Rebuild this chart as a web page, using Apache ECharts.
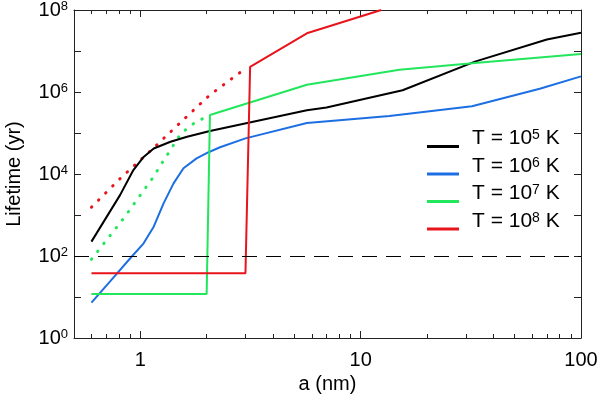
<!DOCTYPE html>
<html>
<head>
<meta charset="utf-8">
<script src="https://cdn.jsdelivr.net/npm/echarts@6/dist/echarts.min.js"></script>
<style>
  html, body { margin: 0; padding: 0; background: #fff; }
  #chart { width: 600px; height: 395px; }
</style>
</head>
<body>
<div id="chart"></div>
<script>
// grain size a (nm) and lifetime (yr)
const aBlack = [0.6, 0.81, 0.93, 1.035, 1.15, 1.37, 1.63, 2.07, 5.7, 7.0, 15.5, 33, 70, 100]
const tBlack = [224, 3100, 1.25e4, 2.6e4, 4.2e4, 6.1e4, 8.1e4, 1.12e5, 3.6e5, 4.2e5, 1.1e6, 5.5e6, 1.9e7, 2.8e7]

const aBlue = [0.6, 0.76, 0.9, 1.035, 1.15, 1.275, 1.415, 1.57, 1.8, 2.04, 2.3, 3.0, 5.7, 13.5, 32, 65, 100]
const tBlue = [7.3, 31, 88, 204, 520, 1920, 5900, 1.38e4, 2.4e4, 3.4e4, 4.5e4, 7.4e4, 1.75e5, 2.6e5, 4.5e5, 1.2e6, 2.4e6]

const aGreen = [0.6, 2.0, 2.07, 5.7, 15, 34, 100]
const tGreen = [11.8, 11.8, 2.75e5, 1.5e6, 3.5e6, 5.2e6, 8.5e6]
const aGreenDot = [0.6, 0.84, 1.14, 1.28, 1.53, 1.77, 2.07]
const tGreenDot = [83, 830, 8100, 2.2e4, 9.8e4, 1.8e5, 2.75e5]

const aRed = [0.6, 3.0, 3.15, 5.7, 12.4]
const tRed = [38, 38, 4.1e6, 2.7e7, 1e8]
const aRedDot = [0.6, 0.82, 1.12, 1.52, 2.07, 2.95]
const tRedDot = [1550, 8300, 3.8e4, 1.8e5, 8.5e5, 3.5e6]

const tempExp = [5, 6, 7, 8]
const colors = ['#000000', '#1c6fe3', '#22e65c', '#e8141c']

const xMajor = [1, 10, 100]
const xMinor = [0.6, 0.7, 0.8, 0.9, 2, 3, 4, 5, 6, 7, 8, 9, 20, 30, 40, 50, 60, 70, 80, 90]
const yTicks = [1, 10, 100, 1e3, 1e4, 1e5, 1e6, 1e7, 1e8]
const yLabels = [1, 100, 1e4, 1e6, 1e8]
const limitLine = 100

const pairs = (xs, ys) => xs.map((x, i) => [x, ys[i]])
const names = tempExp.map(e => 'T' + e)

const fontFam = 'Liberation Sans, Arial, sans-serif'
const supRich = {
  b: {fontSize: 20, lineHeight: 20, fontFamily: fontFam, color: '#000'},
  s: {fontSize: 13, lineHeight: 13, verticalAlign: 'top', fontFamily: fontFam, color: '#000'}
}
const axisCol = '#222'

const mChart = echarts.init(document.getElementById('chart'))

const xBase = {
  type: 'log', logBase: 10, min: 0.5, max: 100,
  splitLine: {show: false},
  axisLine: {show: true, onZero: false, lineStyle: {color: axisCol, width: 1}}
}
const yBase = {
  type: 'log', logBase: 10, min: 1, max: 1e8,
  splitLine: {show: false},
  axisLine: {show: true, onZero: false, lineStyle: {color: axisCol, width: 1}}
}

const solid = (i, xs, ys, extra) => Object.assign({
  name: names[i],
  type: 'line',
  data: pairs(xs, ys),
  showSymbol: false,
  symbol: 'none',
  smooth: false,
  animation: false,
  lineStyle: {color: colors[i], width: 2},
  itemStyle: {color: colors[i]}
}, extra || {})

const dotted = (i, xs, ys) => ({
  name: names[i] + ' dot',
  type: 'line',
  data: pairs(xs, ys),
  showSymbol: false,
  symbol: 'none',
  animation: false,
  lineStyle: {color: colors[i], width: 3, type: [0.5, 9.5], cap: 'round'}
})

const options = {
  animation: false,
  grid: {left: 74, right: 19, top: 10, bottom: 57, outerBoundsMode: 'none', containLabel: false},
  // 图例
  legend: {
    data: names,
    orient: 'vertical',
    left: 427,
    top: 128,
    padding: 0,
    icon: 'rect',
    itemWidth: 32,
    itemHeight: 3,
    itemGap: -9,
    selectedMode: false,
    formatter: n => 'T = 10{s|' + n.slice(1) + '} K',
    textStyle: {
      fontSize: 21, lineHeight: 20, fontFamily: fontFam, color: '#000',
      padding: [0, 0, 16, 8],
      rich: {s: {fontSize: 14, lineHeight: 14, verticalAlign: 'top', fontFamily: fontFam, color: '#000'}}
    }
  },
  xAxis: [
    Object.assign({}, xBase, {
      position: 'bottom',
      name: 'a (nm)', nameLocation: 'middle', nameGap: 34,
      nameTextStyle: {fontSize: 20, fontFamily: fontFam, color: '#000'},
      axisTick: {inside: true, length: 7, customValues: xMajor, lineStyle: {color: axisCol}},
      axisLabel: {customValues: xMajor, margin: 12, fontSize: 20, fontFamily: fontFam, color: '#000',
        formatter: v => String(Math.round(v))}
    }),
    Object.assign({}, xBase, {
      position: 'bottom',
      axisLine: {show: false},
      axisTick: {inside: true, length: 4, customValues: xMinor, lineStyle: {color: axisCol}},
      axisLabel: {show: false}
    }),
    Object.assign({}, xBase, {
      position: 'top',
      axisTick: {inside: true, length: 7, customValues: xMajor, lineStyle: {color: axisCol}},
      axisLabel: {show: false}
    }),
    Object.assign({}, xBase, {
      position: 'top',
      axisLine: {show: false},
      axisTick: {inside: true, length: 4, customValues: xMinor, lineStyle: {color: axisCol}},
      axisLabel: {show: false}
    })
  ],
  yAxis: [
    Object.assign({}, yBase, {
      position: 'left',
      name: 'Lifetime (yr)', nameLocation: 'middle', nameGap: 50,
      nameTextStyle: {fontSize: 20, fontFamily: fontFam, color: '#000'},
      axisTick: {inside: true, length: 7, customValues: yTicks, lineStyle: {color: axisCol}},
      axisLabel: {customValues: yLabels, margin: 6, rich: supRich,
        formatter: v => '{b|10}{s|' + Math.round(Math.log10(v)) + '}'}
    }),
    Object.assign({}, yBase, {
      position: 'right',
      axisTick: {inside: true, length: 7, customValues: yTicks, lineStyle: {color: axisCol}},
      axisLabel: {show: false}
    })
  ],
  series: [
    dotted(3, aRedDot, tRedDot),
    dotted(2, aGreenDot, tGreenDot),
    solid(0, aBlack, tBlack, {
      markLine: {
        silent: true, symbol: 'none', animation: false,
        label: {show: false},
        lineStyle: {color: '#000', width: 1, type: [15, 9]},
        data: [{yAxis: limitLine}]
      }
    }),
    solid(1, aBlue, tBlue),
    solid(2, aGreen, tGreen),
    solid(3, aRed, tRed)
  ]
}
mChart.setOption(options)
</script>
</body>
</html>
